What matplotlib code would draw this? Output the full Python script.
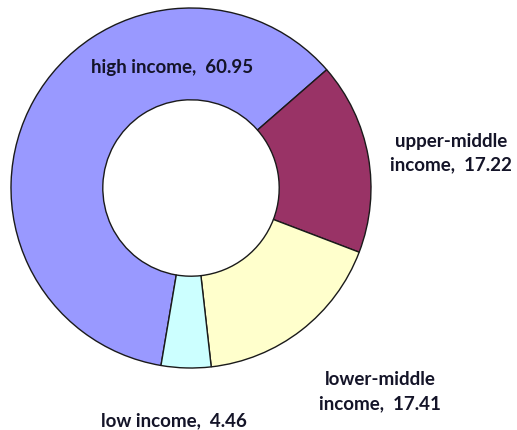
import matplotlib.pyplot as plt

# income groups and their shares
groups = ['high income', 'upper-middle\nincome', 'lower-middle\nincome', 'low income']
shares = [60.95, 17.22, 17.41, 4.46]
colors = ['#9999FF', '#993366', '#FFFFCC', '#CCFFFF']

# where each label sits (data units, radius = 1)
label_pos = [(-0.105, 0.667), (1.444, 0.194), (1.05, -1.133), (-0.094, -1.295)]

fig = plt.figure(figsize=(5.17, 4.30), dpi=100)
ax = fig.add_axes([0, 0, 1, 1])

ax.pie(shares, colors=colors, startangle=260.4, counterclock=False,
       radius=1.0,
       wedgeprops=dict(width=0.51, edgecolor='#1a1a1a', linewidth=1.0))

for name, val, (x, y) in zip(groups, shares, label_pos):
    ax.text(x, y, '%s,  %.2f' % (name, val),
            ha='center', va='center', fontsize=13.5, fontweight='bold',
            family='Lato', color='#141428', linespacing=1.5)

# 1 data unit = 180 px, donut centre at (191, 188) px from top-left
ax.set_xlim(-191 / 180, (517 - 191) / 180)
ax.set_ylim(-(430 - 188) / 180, 188 / 180)
ax.axis('off')

fig.savefig('out.png', dpi=100, facecolor='white')
